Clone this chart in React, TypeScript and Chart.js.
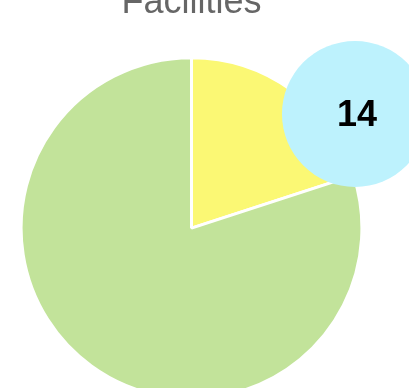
import React, { useEffect, useRef } from "react";
import { Chart, registerables } from "chart.js";

Chart.register(...registerables);

const labels = ["Yes", "No"];
const values = [14, 56];
const colors = ["#fbf874", "#c2e39a"];
const shownLabels = [true, false];
const titleText = "Facilities";

const bubblePlugin = {
  id: "bubbleLabels",
  afterDatasetsDraw(chart: any) {
    const ctx = chart.ctx;
    const meta = chart.getDatasetMeta(0);
    meta.data.forEach((arc: any, i: number) => {
      if (!shownLabels[i]) return;
      const { x, y, startAngle, endAngle, outerRadius } = arc.getProps(
        ["x", "y", "startAngle", "endAngle", "outerRadius"],
        true
      );
      const a = startAngle + 0.765 * (endAngle - startAngle);
      const d = outerRadius * 1.17;
      const cx = x + Math.cos(a) * d;
      const cy = y + Math.sin(a) * d;
      ctx.save();
      ctx.beginPath();
      ctx.arc(cx, cy, 73, 0, Math.PI * 2);
      ctx.fillStyle = "#bdf2fd";
      ctx.fill();
      ctx.fillStyle = "#000";
      ctx.font = "bold 36px Arial, 'Liberation Sans', sans-serif";
      ctx.textAlign = "center";
      ctx.textBaseline = "middle";
      ctx.fillText(String(values[i]), cx + 2, cy + 2);
      ctx.restore();
    });
  },
};

export default function App() {
  const ref = useRef<HTMLCanvasElement>(null);
  useEffect(() => {
    if (!ref.current) return;
    const chart = new Chart(ref.current, {
      type: "pie",
      data: {
        labels,
        datasets: [
          {
            data: values,
            backgroundColor: colors,
            borderColor: "#ffffff",
            borderWidth: 3,
          },
        ],
      },
      options: {
        responsive: false,
        animation: false,
        layout: { padding: { left: 0, right: 57, top: 0, bottom: 0 } },
        plugins: {
          legend: { display: false },
          tooltip: { enabled: false },
          title: {
            display: true,
            text: titleText,
            color: "#666666",
            font: { size: 36, family: "Arial, 'Liberation Sans', sans-serif", weight: "normal", lineHeight: 1.2 },
            padding: { top: 10, bottom: 32 },
          },
        },
      },
      plugins: [bubblePlugin],
    });
    return () => chart.destroy();
  }, []);
  return (
    <div
      style={{
        position: "fixed",
        top: 0,
        left: 0,
        width: 409,
        height: 388,
        overflow: "hidden",
        background: "#fff",
      }}
    >
      <canvas
        ref={ref}
        width={440}
        height={429}
        style={{ position: "absolute", top: -29, left: 0, width: 440, height: 429 }}
      />
    </div>
  );
}
